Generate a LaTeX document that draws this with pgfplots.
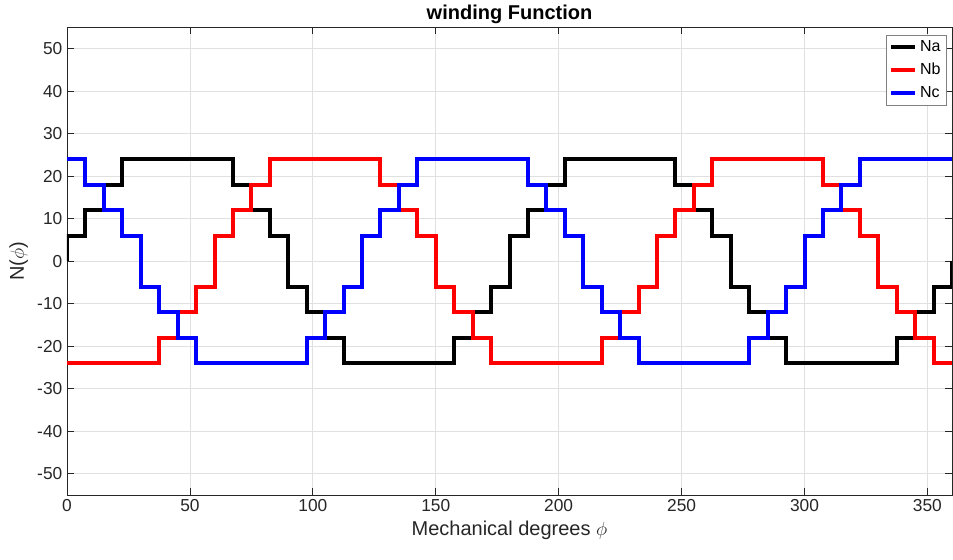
\documentclass[border=0pt]{standalone}
\usepackage{fontspec}
\setmainfont{Liberation Sans}
\usepackage{pgfplots}
\pgfplotsset{compat=1.18}
\definecolor{axgray}{gray}{0.15}
\begin{document}
\begin{tikzpicture}
\begin{axis}[
  scale only axis, width=663.75pt, height=350.6pt,
  xmin=0, xmax=360, ymin=-55, ymax=55,
  xtick={0,50,...,350}, ytick={-50,-40,...,50},
  grid=major, major grid style={black!12, line width=0.6pt},
  axis line style={axgray, line width=0.6pt},
  tick style={axgray, line width=0.6pt}, tick align=inside, major tick length=5pt,
  ticklabel style={font=\fontsize{13}{15}\selectfont, text=axgray},
  /pgf/number format/assume math mode=true,
  title={\textbf{winding Function}},
  title style={font=\fontsize{15}{17}\selectfont, yshift=-7pt},
  xlabel={Mechanical degrees $\phi$}, ylabel={N($\phi$)},
  label style={font=\fontsize{15}{17}\selectfont, text=axgray},
  legend style={at={(1,1)}, anchor=north east, xshift=-3.75pt, yshift=-5.25pt,
    font=\fontsize{12}{14}\selectfont, draw=black!50, line width=0.6pt,
    inner sep=2.5pt, row sep=3pt},
  legend cell align=left,
  legend image code/.code={\draw[#1, line width=3pt] (0pt,0pt) -- (18pt,0pt);},
  every axis plot/.append style={line width=3pt, line join=miter},
]
\addplot[black] coordinates {
(0,0)(0,6)(7.5,6)(7.5,12)(15,12)(15,18)(22.5,18)(22.5,24)(67.5,24)(67.5,18)(75,18)(75,12)(82.5,12)(82.5,6)(90,6)(90,-6)(97.5,-6)(97.5,-12)(105,-12)(105,-18)(112.5,-18)(112.5,-24)(157.5,-24)(157.5,-18)(165,-18)(165,-12)(172.5,-12)(172.5,-6)(180,-6)(180,6)(187.5,6)(187.5,12)(195,12)(195,18)(202.5,18)(202.5,24)(247.5,24)(247.5,18)(255,18)(255,12)(262.5,12)(262.5,6)(270,6)(270,-6)(277.5,-6)(277.5,-12)(285,-12)(285,-18)(292.5,-18)(292.5,-24)(337.5,-24)(337.5,-18)(345,-18)(345,-12)(352.5,-12)(352.5,-6)(360,-6)(360,0)
};
\addlegendentry{Na}
\addplot[red] coordinates {
(0,-24)(37.5,-24)(37.5,-18)(45,-18)(45,-12)(52.5,-12)(52.5,-6)(60,-6)(60,6)(67.5,6)(67.5,12)(75,12)(75,18)(82.5,18)(82.5,24)(127.5,24)(127.5,18)(135,18)(135,12)(142.5,12)(142.5,6)(150,6)(150,-6)(157.5,-6)(157.5,-12)(165,-12)(165,-18)(172.5,-18)(172.5,-24)(217.5,-24)(217.5,-18)(225,-18)(225,-12)(232.5,-12)(232.5,-6)(240,-6)(240,6)(247.5,6)(247.5,12)(255,12)(255,18)(262.5,18)(262.5,24)(307.5,24)(307.5,18)(315,18)(315,12)(322.5,12)(322.5,6)(330,6)(330,-6)(337.5,-6)(337.5,-12)(345,-12)(345,-18)(352.5,-18)(352.5,-24)(360,-24)
};
\addlegendentry{Nb}
\addplot[blue] coordinates {
(0,24)(7.5,24)(7.5,18)(15,18)(15,12)(22.5,12)(22.5,6)(30,6)(30,-6)(37.5,-6)(37.5,-12)(45,-12)(45,-18)(52.5,-18)(52.5,-24)(97.5,-24)(97.5,-18)(105,-18)(105,-12)(112.5,-12)(112.5,-6)(120,-6)(120,6)(127.5,6)(127.5,12)(135,12)(135,18)(142.5,18)(142.5,24)(187.5,24)(187.5,18)(195,18)(195,12)(202.5,12)(202.5,6)(210,6)(210,-6)(217.5,-6)(217.5,-12)(225,-12)(225,-18)(232.5,-18)(232.5,-24)(277.5,-24)(277.5,-18)(285,-18)(285,-12)(292.5,-12)(292.5,-6)(300,-6)(300,6)(307.5,6)(307.5,12)(315,12)(315,18)(322.5,18)(322.5,24)(360,24)
};
\addlegendentry{Nc}
\end{axis}
\pgfresetboundingbox
\path (current axis.south west) ++(-50.25pt,-48.75pt) rectangle ++(714.75pt,420pt);
\end{tikzpicture}
\end{document}
